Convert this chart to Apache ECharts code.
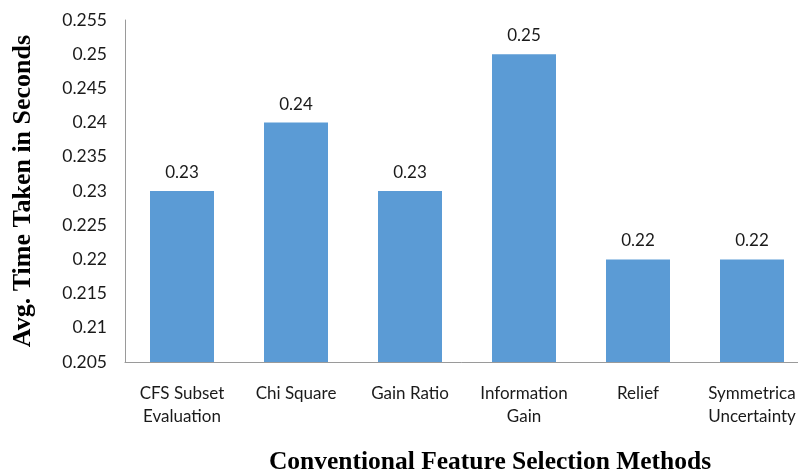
<!DOCTYPE html>
<html>
<head>
<meta charset="utf-8">
<script src="https://cdn.jsdelivr.net/npm/echarts@6/dist/echarts.min.js"></script>
<style>
  html, body { margin: 0; padding: 0; background: #fff; }
  #chart { width: 798px; height: 474px; }
</style>
</head>
<body>
<div id="chart"></div>
<script>
// Feature selection methods and their average run time (seconds)
const methods = [
  'CFS Subset\nEvaluation',
  'Chi Square',
  'Gain Ratio',
  'Information\nGain',
  'Relief',
  'Symmetrica\nUncertainty'
];
const avgTimes = [0.23, 0.24, 0.23, 0.25, 0.22, 0.22];

const yMin = 0.205;
const yMax = 0.255;
const yStep = 0.005;

const labelFont = 'Lato';
const titleFont = 'Liberation Serif';

const chart = echarts.init(document.getElementById('chart'), null, { renderer: 'canvas' });

chart.setOption({
  animation: false,
  backgroundColor: '#ffffff',
  // plot area runs slightly past the right edge of the canvas
  grid: { left: 125, right: -11, top: 20, bottom: 112, containLabel: false, outerBoundsMode: 'none' },
  xAxis: {
    type: 'category',
    data: methods,
    name: 'Conventional Feature Selection Methods',
    nameLocation: 'middle',
    nameGap: 87,
    nameTextStyle: {
      fontFamily: titleFont,
      fontWeight: 'bold',
      fontSize: 25.5,
      color: '#000',
      padding: [0, 0, 0, 46]
    },
    axisLine: { lineStyle: { color: '#9a9a9a', width: 1 } },
    axisTick: { show: false },
    axisLabel: {
      interval: 0,
      margin: 20,
      fontFamily: labelFont,
      fontSize: 17,
      lineHeight: 23,
      color: '#1a1a1a'
    }
  },
  yAxis: {
    type: 'value',
    min: yMin,
    max: yMax,
    interval: yStep,
    name: 'Avg. Time Taken in Seconds',
    nameLocation: 'middle',
    nameGap: 89,
    nameRotate: 90,
    nameTextStyle: {
      fontFamily: titleFont,
      fontWeight: 'bold',
      fontSize: 26,
      color: '#000'
    },
    axisLine: { show: true, lineStyle: { color: '#9a9a9a', width: 1 } },
    axisTick: { show: false },
    splitLine: { show: false },
    axisLabel: {
      margin: 18,
      fontFamily: labelFont,
      fontSize: 17.5,
      color: '#1a1a1a',
      formatter: v => String(parseFloat(v.toFixed(3)))
    }
  },
  series: [{
    type: 'bar',
    data: avgTimes,
    barWidth: 64,
    itemStyle: { color: '#5b9bd5' },
    label: {
      show: true,
      position: 'top',
      distance: 10,
      fontFamily: labelFont,
      fontSize: 17,
      color: '#1a1a1a',
      formatter: p => p.value.toFixed(2)
    }
  }]
});
</script>
</body>
</html>
